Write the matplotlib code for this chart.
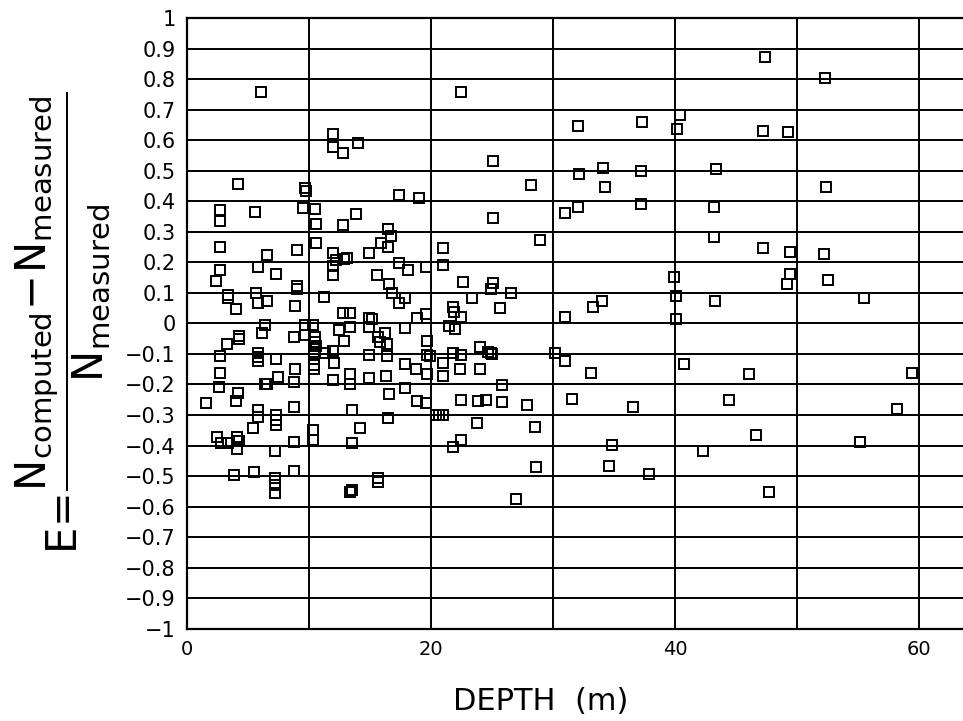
import matplotlib
matplotlib.use("Agg")
import matplotlib.pyplot as plt

plt.rcParams['font.family'] = ['DejaVu Sans']
plt.rcParams['mathtext.fontset'] = 'dejavusans'
plt.rcParams['mathtext.default'] = 'regular'

# depth (m) / error E
depth = [
    6.1, 12.0, 12.0, 12.8, 14.0, 4.2, 9.7, 9.8, 17.4, 19.0, 2.7, 2.7, 5.6, 9.5, 10.5, 10.6, 12.8, 13.9, 16.5,
    16.7, 15.9, 16.5, 2.7, 6.6, 9.0, 10.6, 12.0, 12.2, 12.9, 13.1, 14.9, 21.0,
    2.7, 5.8, 7.3, 2.4, 9.05, 9.05, 12.0, 12.0, 15.6, 17.4, 18.1, 19.6, 21.0,
    16.6, 16.8, 17.4, 17.9, 3.4, 3.4, 5.7, 5.8, 6.6, 4.0, 8.9, 11.2, 12.8, 13.4, 14.9, 15.2, 18.9, 19.6,
    21.5, 6.4, 6.2, 9.7, 10.35, 9.7, 10.5,
    10.5, 10.6, 10.4, 10.4, 10.4,
    12.5, 12.9, 13.4, 14.9, 16.2, 15.7, 15.8, 16.4, 17.9, 19.7, 3.3, 4.3, 4.3, 8.8, 12.0, 11.3, 2.7,
    5.8, 5.8, 5.8, 7.3, 10.4, 10.4, 10.4, 12.1, 14.9, 16.4, 17.9, 18.8, 19.7, 19.7, 19.95, 21.0, 21.0,
    8.9, 2.7, 7.5, 8.8, 12.0, 13.4, 13.4, 14.9, 16.3, 6.4, 6.55, 2.6, 4.2, 4.0, 1.55, 16.6, 17.9, 18.9,
    19.6, 8.8, 5.8, 5.8, 7.3, 7.3, 7.3, 13.5, 16.5, 20.4, 20.7, 21.0, 5.4, 14.2, 10.3, 10.3,
    2.5, 2.8, 3.4, 4.15, 4.3, 4.15, 8.8, 13.5, 7.25,
    3.9, 5.5, 7.2, 7.2, 7.2, 8.8, 13.4, 13.5, 15.7, 15.7,
    22.5, 32.05, 37.3, 40.4, 40.2, 25.1, 32.1, 34.1, 37.2, 28.2, 34.3, 25.1, 31.0, 32.05, 37.2, 28.9,
    22.6, 25.1, 24.9, 26.6, 23.4, 25.7, 21.85, 21.9, 22.5, 22.0, 21.85, 22.5, 24.0, 24.7, 24.9, 25.0,
    22.4, 24.0, 30.95, 30.2, 33.1, 40.7, 33.3, 34.0, 30.95, 39.9, 40.1, 40.1, 25.8,
    22.45, 23.9, 24.5, 25.8, 27.9, 31.55, 36.6, 23.8, 28.5, 21.8, 22.5, 34.85, 28.6, 34.6,
    37.9, 27.0,
    47.4, 52.3, 47.2, 49.3, 43.4, 52.4, 43.2, 43.2,
    47.2, 49.4, 52.2, 49.4, 49.2, 52.5, 43.3, 55.5, 46.1, 59.4, 44.4, 58.2, 46.6, 55.2, 42.3,
    47.7,
]
error = [
    0.757, 0.62, 0.579, 0.559, 0.59, 0.456, 0.443, 0.435, 0.42, 0.409, 0.371, 0.336, 0.366, 0.377, 0.374, 0.326, 0.322, 0.359, 0.308,
    0.286, 0.264, 0.249, 0.251, 0.224, 0.24, 0.264, 0.231, 0.207, 0.21, 0.213, 0.231, 0.246,
    0.175, 0.184, 0.162, 0.14, 0.122, 0.111, 0.188, 0.158, 0.158, 0.197, 0.175, 0.184, 0.191,
    0.129, 0.098, 0.068, 0.082, 0.093, 0.082, 0.098, 0.068, 0.073, 0.046, 0.057, 0.085, 0.035, 0.035, 0.016, 0.013, 0.016, 0.03,
    -0.009, -0.006, -0.031, -0.006, -0.006, -0.038, -0.044,
    -0.06, -0.075, -0.085, -0.095, -0.1,
    -0.022, -0.057, -0.011, -0.011, -0.031, -0.046, -0.06, -0.066, -0.016, -0.057, -0.066, -0.042, -0.052, -0.046, -0.09, -0.096, -0.107,
    -0.098, -0.11, -0.123, -0.118, -0.118, -0.137, -0.148, -0.129, -0.104, -0.107, -0.133, -0.148, -0.166, -0.104, -0.107, -0.131, -0.173,
    -0.148, -0.162, -0.177, -0.191, -0.186, -0.166, -0.199, -0.18, -0.173, -0.199, -0.199, -0.208, -0.228, -0.254, -0.26, -0.232, -0.213, -0.254,
    -0.26, -0.273, -0.284, -0.306, -0.3, -0.317, -0.333, -0.284, -0.311, -0.3, -0.3, -0.3, -0.344, -0.344, -0.35, -0.383,
    -0.372, -0.393, -0.391, -0.372, -0.385, -0.41, -0.388, -0.391, -0.418,
    -0.497, -0.487, -0.508, -0.53, -0.554, -0.483, -0.552, -0.545, -0.508, -0.519,
    0.759, 0.648, 0.658, 0.683, 0.636, 0.533, 0.49, 0.51, 0.5, 0.453, 0.448, 0.344, 0.361, 0.382, 0.391, 0.273,
    0.134, 0.133, 0.111, 0.1, 0.082, 0.051, 0.052, 0.038, 0.02, -0.02, -0.098, -0.104, -0.079, -0.093, -0.098, -0.1,
    -0.148, -0.149, -0.122, -0.098, -0.162, -0.133, 0.055, 0.074, 0.02, 0.153, 0.09, 0.014, -0.202,
    -0.251, -0.254, -0.251, -0.258, -0.266, -0.249, -0.273, -0.326, -0.341, -0.405, -0.383, -0.397, -0.47, -0.468,
    -0.494, -0.574,
    0.872, 0.803, 0.63, 0.626, 0.506, 0.448, 0.382, 0.284,
    0.248, 0.235, 0.226, 0.161, 0.129, 0.142, 0.074, 0.082, -0.166, -0.162, -0.251, -0.279, -0.366, -0.389, -0.418,
    -0.553,
]

x_ticks = [0, 10, 20, 30, 40, 50, 60]
x_labels = ['0', '', '20', '', '40', '', '60']
y_ticks = [i / 10 for i in range(-10, 11)]
y_labels = ['\u22121'] + ['\u22120.%d' % i for i in range(9, 0, -1)] + ['0'] + ['0.%d' % i for i in range(1, 10)] + ['1']

fig = plt.figure(figsize=(9.63, 7.21), dpi=100)
ax = fig.add_axes([0.194, 0.128, 0.806, 0.847])

ax.plot(depth, error, 's', mfc='none', mec='black', ms=7, mew=1.4, clip_on=False)

ax.set_xlim(0, 63.6)
ax.set_ylim(-1, 1)
ax.set_xticks(x_ticks)
ax.set_xticklabels(x_labels, fontsize=14)
ax.set_yticks(y_ticks)
ax.set_yticklabels(y_labels, fontsize=15)
ax.tick_params(length=0, pad=8)
ax.grid(True, color='black', lw=1.4)
ax.set_axisbelow(True)

for s in ['left', 'bottom', 'top']:
    ax.spines[s].set_linewidth(1.6)
ax.spines['right'].set_visible(False)

ax.set_xlabel('DEPTH  (m)', fontsize=22)
ax.xaxis.set_label_coords(0.456, -0.095)
ax.set_ylabel(r'$E\!=\!\dfrac{N_{computed}\!-\!N_{measured}}{N_{measured}}$',
              fontsize=30)
ax.yaxis.set_label_coords(-0.097, 0.5)

fig.savefig('out.png', dpi=100)
